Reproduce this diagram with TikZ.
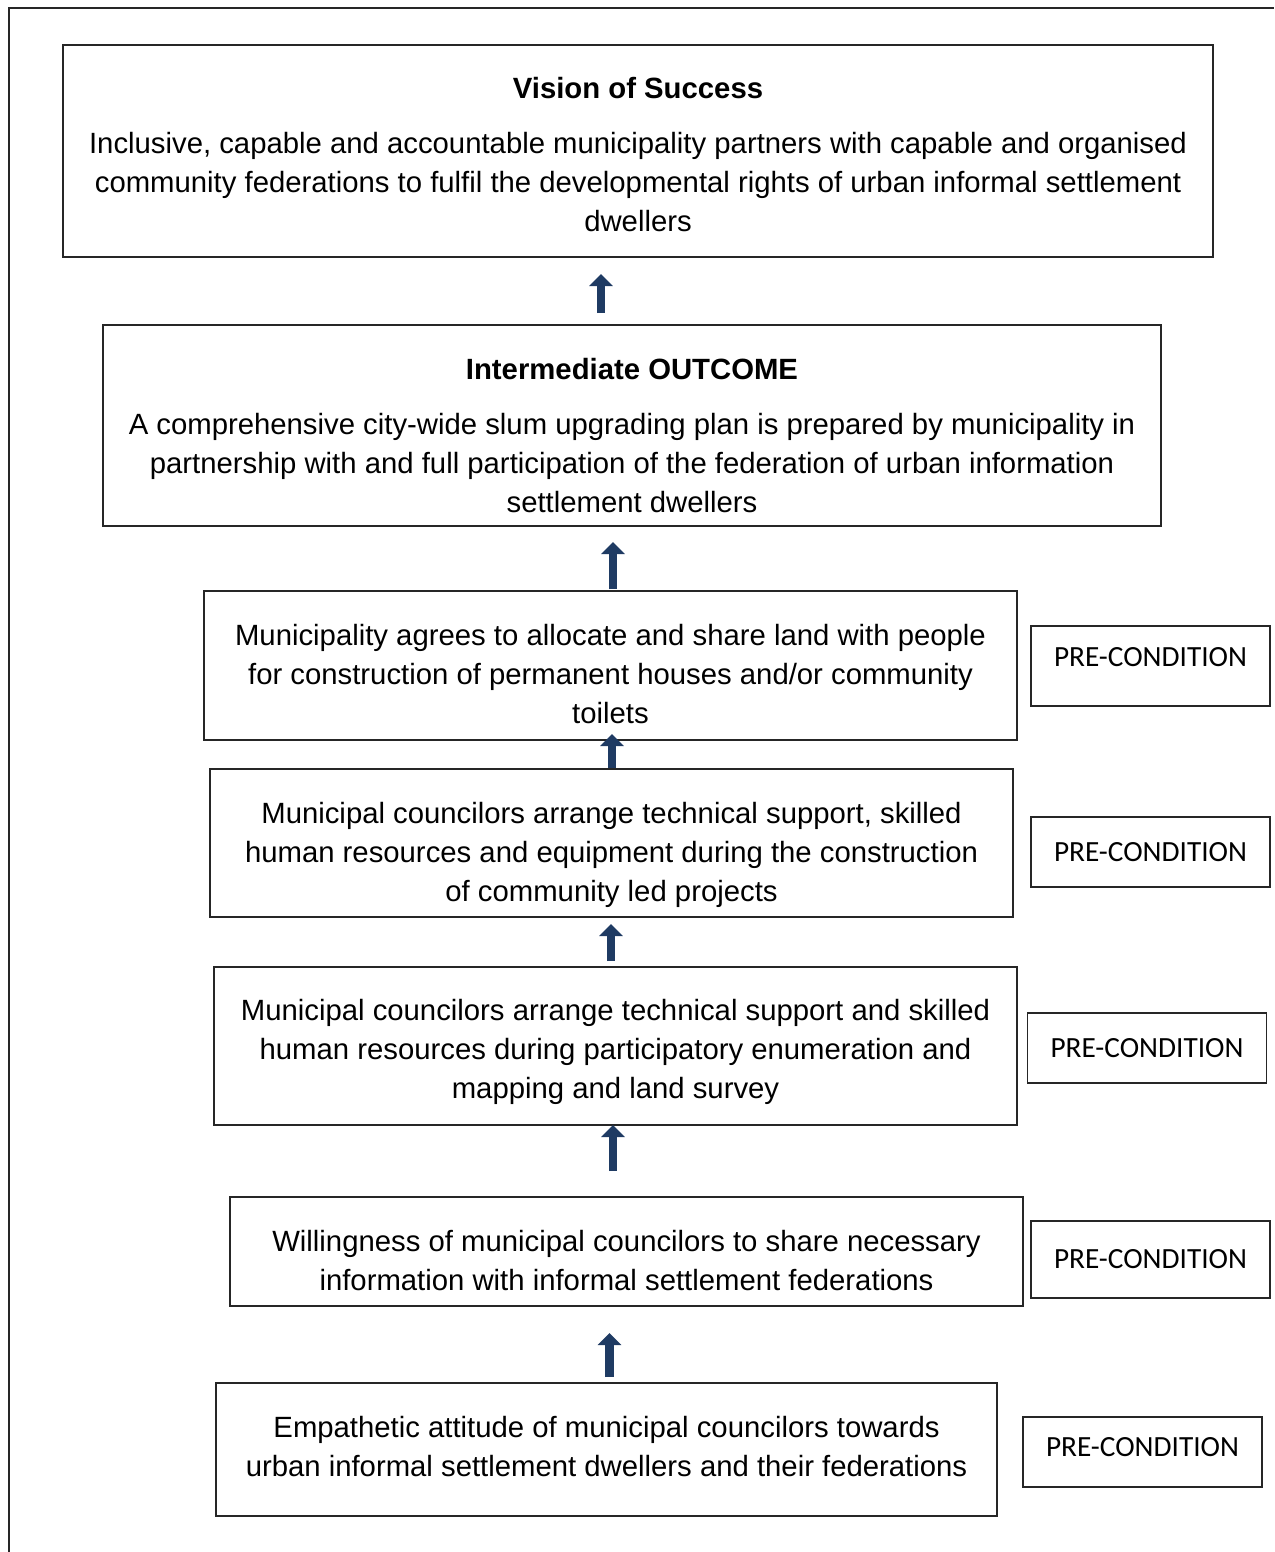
\documentclass[tikz,border=0pt]{standalone}
\usepackage{fontspec}
\setmainfont{Liberation Sans}
\newfontfamily\calib{Carlito}
\usetikzlibrary{arrows.meta}
\definecolor{navy}{HTML}{1F3B63}
\tikzset{
  box/.style={draw=black!85, line width=1.3pt, inner sep=0pt},
  txt/.style={align=center, inner sep=0pt, font=\fontsize{29.3}{39}\selectfont},
  prebox/.style={draw=black!85, line width=1.3pt, inner sep=0pt,
    minimum width=239pt, font=\calib\fontsize{29.3}{36}\selectfont},
  bigarrow/.style={draw=navy, line width=8.5pt,
    -{Triangle[width=23pt,length=12pt]}}
}
\begin{document}
\begin{tikzpicture}[x=1pt,y=-1pt]
\useasboundingbox (0,0) rectangle (1274,1552);
\draw[line width=2pt, black!85] (9,1552) -- (9,8) -- (1274,8);

% main boxes
\node[box, minimum width=1150pt, minimum height=212pt] (b1) at (638,151) {};
\node[box, minimum width=1058pt, minimum height=201pt] (b2) at (632,425.5) {};
\node[box, minimum width=813pt, minimum height=149pt] (b3) at (610.5,665.5) {};
\node[box, minimum width=803pt, minimum height=148pt] (b4) at (611.5,843) {};
\node[box, minimum width=803pt, minimum height=158pt] (b5) at (615.5,1046) {};
\node[box, minimum width=793pt, minimum height=109pt] (b6) at (626.5,1251.5) {};
\node[box, minimum width=781pt, minimum height=133pt] (b7) at (606.5,1449.5) {};

% texts of the main boxes
\node[txt, yshift=-4pt] (t1) at (b1.center)
  {\textbf{Vision of Success}\\[16pt]
   Inclusive, capable and accountable municipality partners with capable and organised\\
   community federations to fulfil the developmental rights of urban informal settlement\\
   dwellers};
\node[txt, yshift=-10pt] (t2) at (b2.center)
  {\textbf{Intermediate OUTCOME}\\[16pt]
   A comprehensive city-wide slum upgrading plan is prepared by municipality in\\
   partnership with and full participation of the federation of urban information\\
   settlement dwellers};
\node[txt, yshift=-9pt] (t3) at (b3.center)
  {Municipality agrees to allocate and share land with people\\
   for construction of permanent houses and/or community\\
   toilets};
\node[txt, yshift=-12pt] (t4) at (b4.center)
  {Municipal councilors arrange technical support, skilled\\
   human resources and equipment during the construction\\
   of community led projects};
\node[txt, yshift=-6pt] (t5) at (b5.center)
  {Municipal councilors arrange technical support and skilled\\
   human resources during participatory enumeration and\\
   mapping and land survey};
\node[txt, yshift=-9pt] (t6) at (b6.center)
  {Willingness of municipal councilors to share necessary\\
   information with informal settlement federations};
\node[txt, yshift=3pt] (t7) at (b7.center)
  {Empathetic attitude of municipal councilors towards\\
   urban informal settlement dwellers and their federations};

% pre-condition boxes
\node[prebox, minimum height=80pt, text depth=19pt] (p1) at (1150.5,666) {PRE-CONDITION};
\node[prebox, minimum height=70pt] (p2) at (1150.5,852) {PRE-CONDITION};
\node[prebox, minimum height=70pt] (p3) at (1147,1048) {PRE-CONDITION};
\node[prebox, minimum height=77pt, text depth=2pt] (p4) at (1150.5,1259.5) {PRE-CONDITION};
\node[prebox, minimum height=70pt, text depth=10pt] (p5) at (1142.5,1452) {PRE-CONDITION};

% arrow end points
\coordinate (a1s) at (601,313); \coordinate (a1e) at (601,274);
\coordinate (a2s) at (613,589); \coordinate (a2e) at (613,542);
\coordinate (a3s) at (612,768); \coordinate (a3e) at (612,734);
\coordinate (a4s) at (611,961); \coordinate (a4e) at (611,924);
\coordinate (a5s) at (613,1171); \coordinate (a5e) at (613,1125);
\coordinate (a6s) at (609.5,1377); \coordinate (a6e) at (609.5,1333);

\draw[bigarrow] (a1s) -- (a1e);
\draw[bigarrow] (a2s) -- (a2e);
\draw[bigarrow] (a3s) -- (a3e);
\draw[bigarrow] (a4s) -- (a4e);
\draw[bigarrow] (a5s) -- (a5e);
\draw[bigarrow] (a6s) -- (a6e);
\end{tikzpicture}
\end{document}
